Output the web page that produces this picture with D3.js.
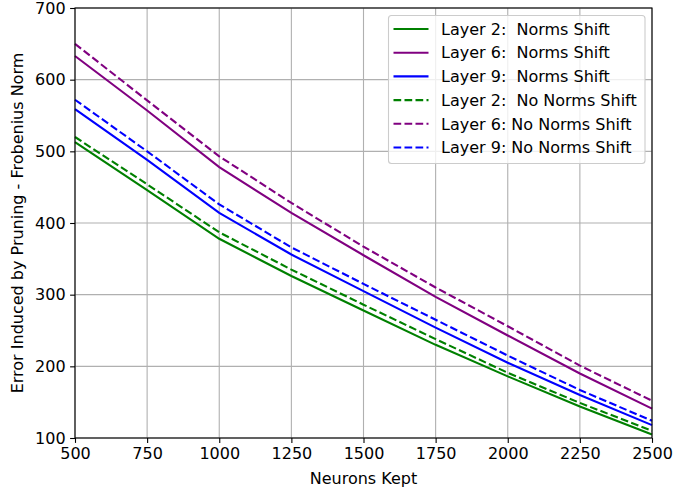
<!DOCTYPE html>
<html>
<head>
<meta charset="utf-8">
<script src="https://cdn.jsdelivr.net/npm/d3@7"></script>
<style>
  body { margin: 0; background: #fff; }
  svg { display: block; font-family: "DejaVu Sans", sans-serif; }
</style>
</head>
<body>
<svg id="chart" width="675" height="490"></svg>
<script>
const neuronsKept = [500, 750, 1000, 1250, 1500, 1750, 2000, 2250, 2500];
const layer2Shift   = [513, 446, 378, 326, 278, 230, 186, 144, 105];
const layer6Shift   = [633, 557, 478, 414, 355, 297, 243, 190, 141];
const layer9Shift   = [559, 488, 414, 356, 305, 254, 205, 160, 118];
const layer2NoShift = [520, 454, 387, 335, 286, 238, 191, 149, 110];
const layer6NoShift = [650, 571, 493, 428, 367, 310, 256, 201, 152];
const layer9NoShift = [572, 500, 426, 366, 315, 265, 215, 167, 124];
const xTicks = [500, 750, 1000, 1250, 1500, 1750, 2000, 2250, 2500];
const yTicks = [100, 200, 300, 400, 500, 600, 700];
const seriesNames = ["Layer 2:  Norms Shift", "Layer 6:  Norms Shift", "Layer 9:  Norms Shift",
                     "Layer 2:  No Norms Shift", "Layer 6: No Norms Shift", "Layer 9: No Norms Shift"];
const seriesColors = ["green", "purple", "blue", "green", "purple", "blue"];
const seriesDashed = [false, false, false, true, true, true];
const seriesValues = [layer2Shift, layer6Shift, layer9Shift, layer2NoShift, layer6NoShift, layer9NoShift];

const svg = d3.select("#chart");
const m = {left: 75, right: 652, top: 8, bottom: 438};
const x = d3.scaleLinear().domain([500, 2500]).range([m.left, m.right]);
const y = d3.scaleLinear().domain([100, 700]).range([m.bottom, m.top]);

// grid
const grid = svg.append("g");
grid.selectAll("line.v").data(xTicks).join("line")
  .attr("x1", d => x(d)).attr("x2", d => x(d)).attr("y1", m.top).attr("y2", m.bottom)
  .attr("stroke", "#b0b0b0").attr("stroke-width", 1.1);
grid.selectAll("line.h").data(yTicks).join("line")
  .attr("y1", d => y(d)).attr("y2", d => y(d)).attr("x1", m.left).attr("x2", m.right)
  .attr("stroke", "#b0b0b0").attr("stroke-width", 1.1);

// lines
const line = d3.line().x((d, i) => x(neuronsKept[i])).y(d => y(d));
seriesValues.forEach((vals, k) => {
  svg.append("path").datum(vals)
    .attr("d", line)
    .attr("fill", "none")
    .attr("stroke", seriesColors[k])
    .attr("stroke-width", 2.1)
    .attr("stroke-dasharray", seriesDashed[k] ? "7.7,3.3" : null);
});

// axes
const xAxis = d3.axisBottom(x).tickValues(xTicks).tickSize(4.9).tickPadding(4.5).tickFormat(d3.format("d"));
const yAxis = d3.axisLeft(y).tickValues(yTicks).tickSize(4.9).tickPadding(4.5).tickFormat(d3.format("d"));
const gx = svg.append("g").attr("transform", `translate(0,${m.bottom})`).call(xAxis);
const gy = svg.append("g").attr("transform", `translate(${m.left},0)`).call(yAxis);
[gx, gy].forEach(g => {
  g.select(".domain").remove();
  g.selectAll(".tick line").attr("stroke", "#000").attr("stroke-width", 1.1);
  g.selectAll(".tick text").attr("fill", "#000").style("font-size", "16px").style("font-family", "DejaVu Sans");
});

// frame
svg.append("rect").attr("x", m.left).attr("y", m.top)
  .attr("width", m.right - m.left).attr("height", m.bottom - m.top)
  .attr("fill", "none").attr("stroke", "#000").attr("stroke-width", 1.1);

// axis labels
svg.append("text").attr("x", (m.left + m.right) / 2).attr("y", 484)
  .attr("text-anchor", "middle").style("font-size", "16px").text("Neurons Kept");
svg.append("text").attr("transform", `translate(23,${(m.top + m.bottom) / 2}) rotate(-90)`)
  .attr("text-anchor", "middle").style("font-size", "16px")
  .text("Error Induced by Pruning - Frobenius Norm");

// legend
const lg = svg.append("g");
lg.append("rect").attr("x", 388.5).attr("y", 15.5).attr("width", 256.5).attr("height", 148)
  .attr("rx", 3).attr("fill", "#fff").attr("fill-opacity", 0.8)
  .attr("stroke", "#cccccc").attr("stroke-width", 1.1);
seriesNames.forEach((name, k) => {
  const cy = 29 + k * 23.7;
  lg.append("line").attr("x1", 393.5).attr("x2", 428.5).attr("y1", cy).attr("y2", cy)
    .attr("stroke", seriesColors[k]).attr("stroke-width", 2.1)
    .attr("stroke-dasharray", seriesDashed[k] ? "7.7,3.3" : null);
  lg.append("text").attr("x", 441).attr("y", cy).attr("dy", "0.36em")
    .style("font-size", "16px").style("white-space", "pre").attr("xml:space", "preserve")
    .text(name);
});
</script>
</body>
</html>
